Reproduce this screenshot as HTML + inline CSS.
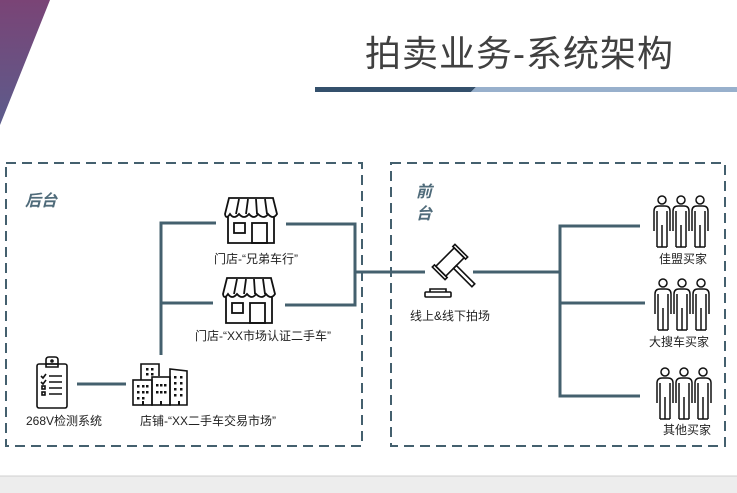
<!DOCTYPE html>
<html><head><meta charset="utf-8"><style>
html,body{margin:0;padding:0;background:#fff;}
svg{display:block;}
text{font-family:"Liberation Sans","Noto Sans CJK SC",sans-serif;}
</style></head><body>
<svg width="737" height="493" viewBox="0 0 737 493" xmlns="http://www.w3.org/2000/svg">
<defs>
<linearGradient id="pg" x1="0" y1="0" x2="0" y2="1"><stop offset="0" stop-color="#7a4476"/><stop offset="1" stop-color="#5c5c8c"/></linearGradient>
<g id="store" fill="none" stroke="#111" stroke-width="1.8">
<path d="M4 0 H48 L52 16 Q48 22 43 16 Q39 22 33 16 Q29 22 24 16 Q19 22 14 16 Q9 22 5 16 Q1 22 0 16 Z"/>
<path d="M14 1 L11 16 M23 1 L21 16 M31 1 L32 16 M40 1 L42 16"/>
<path d="M3 19 V45 H49 V19"/>
<rect x="9" y="25" width="11" height="10"/>
<rect x="27" y="25" width="15" height="20"/>
</g>
<g id="person" fill="none" stroke="#111" stroke-width="1.5">
<circle cx="10" cy="5" r="4"/>
<path d="M2 36 V16 Q2 11 7 11 H13 Q18 11 18 16 V36 M5 16 V52 M15 16 V52 M10 30 V52 M5 52 H15"/>
</g>
<g id="people"><use href="#person" x="0"/><use href="#person" x="19"/><use href="#person" x="38"/></g>
</defs>
<polygon points="0,0 50,0 0,125" fill="url(#pg)"/>
<text x="365" y="66" font-size="36" fill="#404040" letter-spacing="1">拍卖业务-系统架构</text>
<polygon points="315,87 476,87 471,92 315,92" fill="#34506c"/>
<polygon points="476,87 737,87 737,92 471,92" fill="#98b0cc"/>
<rect x="0" y="476" width="737" height="17" fill="#ededed"/>
<line x1="0" y1="476" x2="737" y2="476" stroke="#d0d0d0"/>
<g fill="none" stroke="#44606e" stroke-width="2" stroke-dasharray="10,6">
<rect x="6" y="163" width="356" height="283"/>
<rect x="391" y="163" width="334" height="283"/>
</g>
<text x="25" y="206" font-size="16" font-weight="bold" font-style="italic" fill="#4f6b7a">后台</text>
<text x="416" y="197" font-size="16" font-weight="bold" font-style="italic" fill="#4f6b7a">前</text>
<text x="416" y="219" font-size="16" font-weight="bold" font-style="italic" fill="#4f6b7a">台</text>
<g fill="none" stroke="#44606e" stroke-width="3">
<path d="M216 223 H161 V355 M161 303 H213"/>
<path d="M286 224 H355 V305 H285 M355 272 H425"/>
<path d="M77 384 H126"/>
<path d="M473 272 H560 M640 226 H560 V396 H640 M560 303 H645"/>
</g>
<use href="#store" x="225" y="198"/>
<use href="#store" x="223" y="278"/>
<g fill="none" stroke="#111" stroke-width="1.6">
<rect x="37" y="364" width="30" height="44" rx="2"/>
<path d="M46 364 V360 Q46 357 49 357 H55 Q58 357 58 360 V364 H46 V367 H58 V364"/>
<circle cx="52" cy="361" r="1"/>
<path d="M41 376 L43 378 L46 374 M41 382 L43 384 L46 380 M49 376 H62 M49 382 H62 M49 388 H62 M49 394 H62"/>
<rect x="42" y="386" width="3" height="3"/><rect x="42" y="392" width="3" height="3"/>
</g>
<g fill="none" stroke="#111" stroke-width="1.6">
<path d="M141 380 V364 H159 V376"/>
<rect x="133" y="380" width="19" height="25"/>
<rect x="152" y="377" width="18" height="28"/>
<path d="M170 405 V369 L187 371 V405 Z"/>
</g>
<g fill="#111">
<rect x="146" y="368" width="2.5" height="2.5"/><rect x="151" y="368" width="2.5" height="2.5"/>
<rect x="146" y="373" width="2.5" height="2.5"/><rect x="151" y="373" width="2.5" height="2.5"/>
<rect x="137" y="385" width="2.5" height="2.5"/><rect x="142" y="385" width="2.5" height="2.5"/><rect x="146" y="385" width="2.5" height="2.5"/>
<rect x="137" y="391" width="2.5" height="2.5"/><rect x="142" y="391" width="2.5" height="2.5"/><rect x="146" y="391" width="2.5" height="2.5"/>
<rect x="137" y="397" width="2.5" height="2.5"/><rect x="142" y="397" width="2.5" height="2.5"/>
<rect x="156" y="384" width="2.5" height="2.5"/><rect x="160" y="384" width="2.5" height="2.5"/><rect x="164" y="384" width="2.5" height="2.5"/>
<rect x="156" y="391" width="2.5" height="2.5"/><rect x="160" y="391" width="2.5" height="2.5"/><rect x="164" y="391" width="2.5" height="2.5"/>
<rect x="174" y="376" width="2.5" height="2.5"/><rect x="180" y="376" width="2.5" height="2.5"/>
<rect x="174" y="382" width="2.5" height="2.5"/><rect x="180" y="382" width="2.5" height="2.5"/>
<rect x="174" y="388" width="2.5" height="2.5"/><rect x="180" y="388" width="2.5" height="2.5"/>
<rect x="174" y="394" width="2.5" height="2.5"/><rect x="180" y="394" width="2.5" height="2.5"/>
<rect x="142" y="401" width="2" height="4"/><rect x="160" y="401" width="2" height="4"/><rect x="178" y="401" width="2" height="4"/>
</g>
<g fill="none" stroke="#111" stroke-width="1.6">
<g transform="translate(450,262) rotate(-45)">
<rect x="-13" y="-7" width="26" height="14"/>
<rect x="-16" y="-9" width="3" height="18"/>
<rect x="13" y="-9" width="3" height="18"/>
<rect x="-2" y="7" width="4" height="26"/>
</g>
<rect x="425" y="292" width="26" height="5" rx="1"/>
<path d="M430 292 V289 H446 V292"/>
</g>
<use href="#people" x="652" y="195"/>
<use href="#people" x="653" y="278"/>
<use href="#people" x="655" y="367"/>
<g font-size="12" fill="#222" text-anchor="middle">
<text x="256" y="263">门店-“兄弟车行”</text>
<text x="263" y="340">门店-“XX市场认证二手车”</text>
<text x="64" y="425">268V检测系统</text>
<text x="208" y="425">店铺-“XX二手车交易市场”</text>
<text x="450" y="320">线上&amp;线下拍场</text>
<text x="683" y="263">佳盟买家</text>
<text x="679" y="346">大搜车买家</text>
<text x="687" y="434">其他买家</text>
</g>
</svg>
</body></html>
